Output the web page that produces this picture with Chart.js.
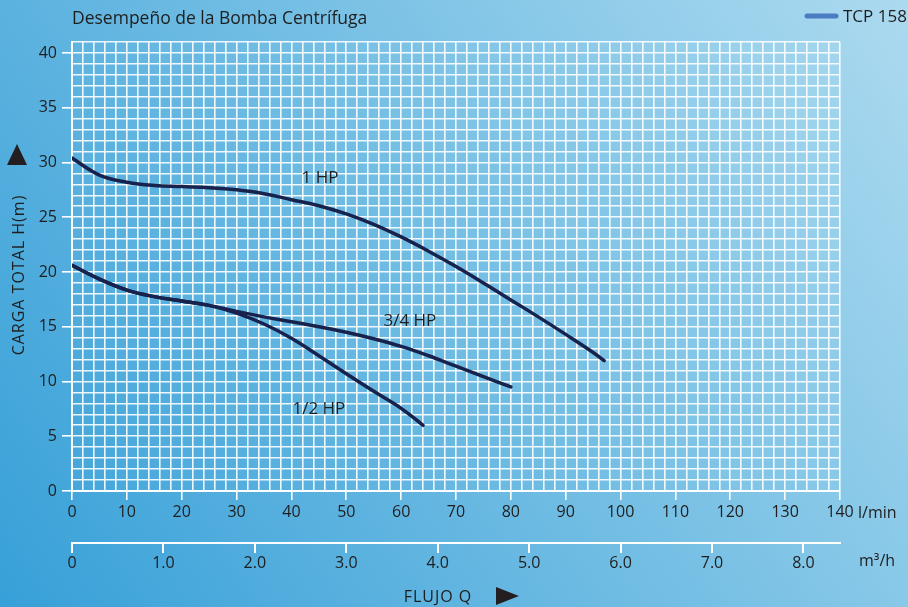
<!DOCTYPE html>
<html>
<head>
<meta charset="utf-8">
<script src="https://cdn.jsdelivr.net/npm/chart.js@4.4.1/dist/chart.umd.min.js"></script>
<style>
  html, body { margin: 0; padding: 0; background: #4aa8dc; }
  #wrap { width: 908px; height: 607px; position: relative; }
</style>
</head>
<body>
<div id="wrap"><canvas id="curvaBomba"></canvas></div>
<script>
// caudal en l/min y carga en m
const flujo1HP = [0, 5, 10, 15, 20, 25, 30, 35, 40, 45, 50, 55, 60, 65, 70, 75, 80, 85, 90, 95, 97];
const carga1HP = [30.4, 28.85, 28.2, 27.9, 27.8, 27.7, 27.5, 27.15, 26.6, 26.05, 25.3, 24.35, 23.2, 21.9, 20.5, 19.0, 17.45, 15.9, 14.3, 12.65, 11.9];

const flujo34HP = [0, 5, 10, 15, 20, 25, 30, 35, 40, 45, 50, 55, 60, 65, 70, 75, 80];
const carga34HP = [20.6, 19.35, 18.35, 17.75, 17.35, 16.95, 16.4, 15.9, 15.45, 15.0, 14.5, 13.9, 13.2, 12.35, 11.4, 10.45, 9.5];

const flujo12HP = [0, 5, 10, 15, 20, 25, 30, 35, 40, 45, 50, 55, 60, 64];
const carga12HP = [20.6, 19.35, 18.35, 17.75, 17.35, 16.95, 16.25, 15.25, 13.95, 12.35, 10.7, 9.1, 7.55, 6.0];

const nombresCurva = ['1 HP', '3/4 HP', '1/2 HP'];
const etiquetaFlujo = [45.2, 61.6, 45.0];
const etiquetaCarga = [28.6, 15.5, 7.5];

const LMIN_POR_M3H = 1000 / 60;
const maxFlujo = 140;
const maxCarga = 41;

const fuente = "'Open Sans', 'Noto Sans', sans-serif";
const colorTexto = '#1e1e1e';
const colorCurva = '#17224d';

function puntos(xs, ys) {
  return xs.map((x, i) => ({ x: x, y: ys[i] }));
}

// fondo degradado + adornos (flechas, unidades, leyenda, titulos de ejes)
const adornos = {
  id: 'adornos',
  beforeDraw(chart) {
    const ctx = chart.ctx;
    const g = ctx.createLinearGradient(0, chart.height, chart.width, 0);
    g.addColorStop(0, '#37a0d8');
    g.addColorStop(1, '#acdaef');
    ctx.save();
    ctx.fillStyle = g;
    ctx.fillRect(0, 0, chart.width, chart.height);
    ctx.restore();
  },
  afterDatasetsDraw(chart) {
    const ctx = chart.ctx;
    const x = chart.scales.x;
    const y = chart.scales.y;
    const x2 = chart.scales.x2;
    ctx.save();
    ctx.fillStyle = colorTexto;
    ctx.font = '17px ' + fuente;
    ctx.textAlign = 'center';
    ctx.textBaseline = 'middle';
    nombresCurva.forEach((n, i) => {
      ctx.fillText(n, x.getPixelForValue(etiquetaFlujo[i]), y.getPixelForValue(etiquetaCarga[i]));
    });

    // unidades
    ctx.textAlign = 'left';
    ctx.font = '16px ' + fuente;
    ctx.fillText('l/min', x.right + 18, x.top + 22);
    ctx.fillText('m\u00b3/h', x2.right + 19, x2.top + 18);

    // titulos de ejes
    ctx.letterSpacing = '1px';
    ctx.textAlign = 'center';
    ctx.font = '16px ' + fuente;
    ctx.fillText('FLUJO Q', 438, 597);

    ctx.save();
    ctx.translate(18, 275);
    ctx.rotate(-Math.PI / 2);
    ctx.font = '16px ' + fuente;
    ctx.fillText('CARGA TOTAL H(m)', 0, 1);
    ctx.restore();
    ctx.letterSpacing = '0px';

    // flechas
    ctx.fillStyle = '#231f20';
    ctx.beginPath();
    ctx.moveTo(496, 587);
    ctx.lineTo(519, 596);
    ctx.lineTo(496, 605);
    ctx.closePath();
    ctx.fill();
    ctx.beginPath();
    ctx.moveTo(7, 165);
    ctx.lineTo(17, 144);
    ctx.lineTo(27, 165);
    ctx.closePath();
    ctx.fill();

    // leyenda
    ctx.strokeStyle = '#4a7dc2';
    ctx.lineWidth = 5;
    ctx.lineCap = 'round';
    ctx.beginPath();
    ctx.moveTo(807, 16);
    ctx.lineTo(836, 16);
    ctx.stroke();
    ctx.fillStyle = colorTexto;
    ctx.font = '17px ' + fuente;
    ctx.textAlign = 'left';
    ctx.fillText('TCP 158', 843, 17);
    ctx.restore();
  }
};

function crearCurvaBomba() {
  const ctx = document.getElementById('curvaBomba').getContext('2d');

  const serie = (nombre, xs, ys) => ({
    label: nombre,
    data: puntos(xs, ys),
    borderColor: colorCurva,
    borderWidth: 3.5,
    pointRadius: 0,
    fill: false,
    tension: 0.4,
    borderCapStyle: 'round'
  });

  new Chart(ctx, {
    type: 'line',
    data: {
      datasets: [
        serie(nombresCurva[0], flujo1HP, carga1HP),
        serie(nombresCurva[1], flujo34HP, carga34HP),
        serie(nombresCurva[2], flujo12HP, carga12HP)
      ]
    },
    options: {
      responsive: true,
      maintainAspectRatio: false,
      animation: false,
      layout: { padding: { left: 0, right: 68, top: 0, bottom: 0 } },
      plugins: {
        legend: { display: false },
        tooltip: { enabled: false },
        title: {
          display: true,
          text: 'Desempe\u00f1o de la Bomba Centr\u00edfuga',
          align: 'start',
          fullSize: false,
          color: colorTexto,
          font: { family: fuente, size: 17.5, weight: 'normal' },
          lineHeight: 1.2,
          padding: { top: 9, bottom: 12 }
        }
      },
      scales: {
        x: {
          type: 'linear',
          position: 'bottom',
          weight: 0,
          min: 0,
          max: maxFlujo,
          afterFit: s => { s.height = 52; },
          border: { display: true, color: '#ffffff', width: 2 },
          grid: {
            color: 'rgba(255,255,255,0.9)',
            lineWidth: 1.6,
            tickLength: 9,
            tickColor: c => (c.tick && c.tick.value % 10 === 0) ? '#ffffff' : 'rgba(0,0,0,0)'
          },
          ticks: {
            stepSize: 2,
            autoSkip: false,
            maxRotation: 0,
            padding: 3,
            color: colorTexto,
            font: { family: fuente, size: 16 },
            callback: v => (v % 10 === 0 ? String(v) : '')
          }
        },
        x2: {
          type: 'linear',
          position: 'bottom',
          weight: 1,
          min: 0,
          max: maxFlujo / LMIN_POR_M3H,
          afterFit: s => { s.height = 64; },
          border: { display: true, color: '#ffffff', width: 2 },
          grid: {
            drawOnChartArea: false,
            color: '#ffffff',
            lineWidth: 2,
            tickLength: 10
          },
          ticks: {
            stepSize: 1,
            includeBounds: false,
            autoSkip: false,
            maxRotation: 0,
            padding: 1,
            color: colorTexto,
            font: { family: fuente, size: 16 },
            callback: v => (v === 0 ? '0' : v.toFixed(1))
          }
        },
        y: {
          type: 'linear',
          min: 0,
          max: maxCarga,
          afterFit: s => { s.width = 72; },
          border: { display: true, color: '#ffffff', width: 2 },
          grid: {
            color: 'rgba(255,255,255,0.9)',
            lineWidth: 1.6,
            tickLength: 10,
            tickColor: c => (c.tick && c.tick.value % 5 === 0) ? '#ffffff' : 'rgba(0,0,0,0)'
          },
          ticks: {
            stepSize: 1,
            autoSkip: false,
            padding: 5,
            color: colorTexto,
            font: { family: fuente, size: 16 },
            callback: v => (v % 5 === 0 ? String(v) : '')
          }
        }
      }
    },
    plugins: [adornos]
  });
}

crearCurvaBomba();
</script>
</body>
</html>
